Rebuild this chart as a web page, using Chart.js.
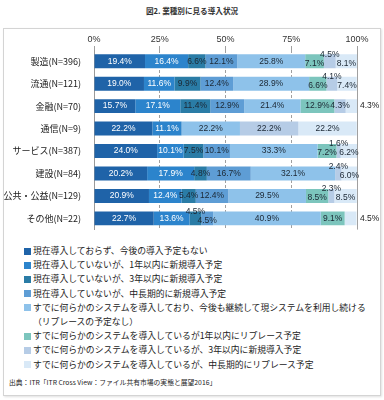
<!DOCTYPE html>
<html lang="ja">
<head>
<meta charset="utf-8">
<script src="https://cdn.jsdelivr.net/npm/chart.js@4.4.1/dist/chart.umd.min.js"></script>
<style>
  body { margin: 0; width: 384px; height: 400px; background: #fff; position: relative; overflow: hidden;
         font-family: "Noto Sans CJK JP", "Noto Sans", sans-serif; }
  .title { position: absolute; top: 5px; left: 0; width: 384px; text-align: center; font-size: 7.6px; font-weight: bold; color: #333; }
  .frame { position: absolute; left: 3px; top: 28px; width: 376px; height: 366px; border: 1px solid #d4d4d4;
           box-shadow: 1px 1px 2px rgba(0,0,0,0.12); }
  #chartWrap { position: absolute; left: 0; top: 0; width: 384px; height: 240px; }
  #legend { position: absolute; left: 24px; top: 244px; font-size: 8.8px; color: #222; line-height: 14.2px; }
  .item { display: flex; align-items: flex-start; }
  .sw { width: 7px; height: 7px; margin: 3.6px 2px 0 0; flex: none; }
  .txt { white-space: pre-line; }
  .source { position: absolute; left: 9px; top: 377px; font-size: 6.8px; color: #222; }
</style>
</head>
<body>
<div class="title">図2. 業種別に見る導入状況</div>
<div class="frame"></div>
<div id="chartWrap"><canvas id="chart"></canvas></div>
<div id="legend"></div>
<div class="source">出典：ITR「ITR Cross View：ファイル共有市場の実態と展望2016」</div>
<script>
const categories = ['製造(N=396)', '流通(N=121)', '金融(N=70)', '通信(N=9)', 'サービス(N=387)', '建設(N=84)', '公共・公益(N=129)', 'その他(N=22)'];

const seriesNames = [
  '現在導入しておらず、今後の導入予定もない',
  '現在導入していないが、1年以内に新規導入予定',
  '現在導入していないが、3年以内に新規導入予定',
  '現在導入していないが、中長期的に新規導入予定',
  'すでに何らかのシステムを導入しており、今後も継続して現システムを利用し続ける\n（リプレースの予定なし）',
  'すでに何らかのシステムを導入しているが1年以内にリプレース予定',
  'すでに何らかのシステムを導入しているが、3年以内に新規導入予定',
  'すでに何らかのシステムを導入しているが、中長期的にリプレース予定'
];

const notPlanned    = [19.4, 19.0, 15.7, 22.2, 24.0, 20.2, 20.9, 22.7];
const new1Year      = [16.4, 11.6, 17.1, 11.1, 10.1, 17.9, 12.4, 13.6];
const new3Years     = [6.6, 9.9, 11.4, 0, 7.5, 4.8, 5.4, 4.5];
const newLongTerm   = [12.1, 12.4, 12.9, 0, 10.1, 16.7, 12.4, 4.5];
const keepCurrent   = [25.8, 28.9, 21.4, 22.2, 33.3, 32.1, 29.5, 40.9];
const replace1Year  = [7.1, 6.6, 12.9, 0, 7.2, 0, 8.5, 9.1];
const replace3Years = [4.5, 4.1, 4.3, 22.2, 1.6, 2.4, 2.3, 0];
const replaceLong   = [8.1, 7.4, 4.3, 22.2, 6.2, 6.0, 8.5, 4.5];

const seriesValues = [notPlanned, new1Year, new3Years, newLongTerm, keepCurrent, replace1Year, replace3Years, replaceLong];
const seriesColors = ['#1f63a8', '#2c84cc', '#2a7ca6', '#5e9dd5', '#8ec2ea', '#7cc5bd', '#b6cce6', '#d9e9f7'];
const xTicks = [0, 25, 50, 75, 100];

function buildLegend() {
  document.getElementById('legend').innerHTML = seriesNames.map((name, i) => `
    <div class="item"><span class="sw" style="background:${seriesColors[i]}"></span><span class="txt">${name}</span></div>
  `).join('');
}

// 値ラベル：細い区間は上にずらし、末尾の細い区間はバーの外に出す
const valueLabels = {
  id: 'valueLabels',
  afterDatasetsDraw(chart) {
    const { ctx } = chart;
    ctx.save();
    ctx.font = '8.5px "Liberation Sans", Arial, sans-serif';
    ctx.textBaseline = 'middle';
    categories.forEach((cat, row) => {
      const vals = seriesValues.map(s => s[row]);
      const idx = vals.map((v, i) => i).filter(i => vals[i] > 0);
      const lifted = new Set(), lowered = new Set(), outside = new Set();
      idx.forEach((i, k) => {
        if (k === idx.length - 1) { if (vals[i] < 5) outside.add(i); return; }
        if (vals[i] >= 4.6 || lowered.has(i)) return;
        const next = idx[k + 1];
        if (k + 1 === idx.length - 1 && vals[next] < 5) return;
        lifted.add(i);
        [idx[k - 1], next].forEach(j => { if (j !== undefined && vals[j] < 10) lowered.add(j); });
      });
      idx.forEach(i => {
        const bar = chart.getDatasetMeta(i).data[row];
        const text = vals[i].toFixed(1) + '%';
        let x = (bar.x + bar.base) / 2, y = bar.y;
        ctx.textAlign = 'center';
        ctx.fillStyle = i < 2 ? '#ffffff' : '#1b2733';
        if (outside.has(i)) {
          x = chart.chartArea.right + 3; ctx.textAlign = 'left'; ctx.fillStyle = '#222';
        } else if (lifted.has(i)) {
          y -= 7;
        } else if (lowered.has(i)) {
          y += 2;
        }
        ctx.fillText(text, x, y);
      });
    });
    ctx.restore();
  }
};

function renderChart() {
  new Chart(document.getElementById('chart'), {
    type: 'bar',
    data: {
      labels: categories,
      datasets: seriesValues.map((vals, i) => ({
        label: seriesNames[i],
        data: vals,
        backgroundColor: seriesColors[i],
        borderWidth: 0,
        barPercentage: 0.62,
        categoryPercentage: 1
      }))
    },
    options: {
      indexAxis: 'y',
      responsive: true,
      maintainAspectRatio: false,
      animation: false,
      layout: { padding: { top: 30, right: 27, bottom: 7, left: 0 } },
      plugins: { legend: { display: false }, tooltip: { enabled: false } },
      scales: {
        x: {
          stacked: true, position: 'top', min: 0, max: 100,
          afterBuildTicks: scale => { scale.ticks = xTicks.map(v => ({ value: v })); },
          afterFit: scale => { scale.height = 20; },
          ticks: { color: '#333', padding: 1, font: { family: '"Liberation Sans", Arial, sans-serif', size: 9 }, callback: v => v + '%' },
          grid: { color: '#a0a0a0', tickLength: 4, drawTicks: true },
          border: { display: false, dash: ctx => (ctx.tick && (ctx.tick.value === 0 || ctx.tick.value === 100)) ? [] : [3, 2] }
        },
        y: {
          stacked: true,
          afterFit: scale => { scale.width = 94; },
          grid: { display: false },
          border: { display: true, color: '#999' },
          ticks: { color: '#1a1a1a', padding: 5, font: { family: '"Noto Sans CJK JP", sans-serif', size: 9 } }
        }
      }
    },
    plugins: [valueLabels]
  });
}

buildLegend();
renderChart();
</script>
</body>
</html>
